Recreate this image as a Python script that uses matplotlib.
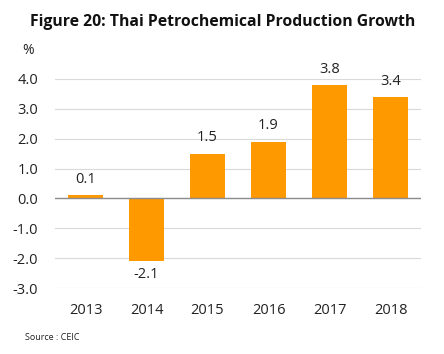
import matplotlib
matplotlib.use("Agg")
import matplotlib.pyplot as plt

years = ["2013", "2014", "2015", "2016", "2017", "2018"]
growth = [0.1, -2.1, 1.5, 1.9, 3.8, 3.4]
yticks = [-3.0, -2.0, -1.0, 0.0, 1.0, 2.0, 3.0, 4.0]

plt.rcParams['font.family'] = ['Open Sans', 'DejaVu Sans']

fig = plt.figure(figsize=(4.44, 3.54), dpi=100)
W, H = 444, 354
ax = fig.add_axes([55/W, (H-288)/H, (421-55)/W, (288-79)/H])

x = list(range(len(years)))
bars = ax.bar(x, growth, width=0.57, color="#FF9900", zorder=3)
ax.set_xlim(-0.5, len(years)-0.5)
ax.set_ylim(-3, 4)
ax.set_yticks(yticks)
ax.set_yticklabels([f"{v:.1f}" for v in yticks], fontsize=10.5, color="#222222")
ax.set_xticks(x)
ax.set_xticklabels(years, fontsize=10.5, color="#222222")
ax.tick_params(axis='y', length=0, pad=12)
ax.tick_params(axis='x', length=0, pad=11)
for s in ax.spines.values():
    s.set_visible(False)
ax.grid(axis='y', color="#D9D9D9", linewidth=0.8, zorder=0)
ax.axhline(0, color="#8C8C8C", linewidth=1.0, zorder=4)

for xi, v in zip(x, growth):
    if v >= 0:
        ax.annotate(f"{v:.1f}", (xi, v), xytext=(0, 6), textcoords="offset points",
                    ha="center", va="bottom", fontsize=10.5, color="#222222", annotation_clip=False)
    else:
        ax.annotate(f"{v:.1f}", (xi, v), xytext=(0, -4), textcoords="offset points",
                    ha="center", va="top", fontsize=10.5, color="#222222", annotation_clip=False)

fig.text(223/W, 1 - 22/H, "Figure 20: Thai Petrochemical Production Growth",
         ha="center", va="center", fontsize=11.3, fontweight="bold", color="#111111")
fig.text(22/W, 1 - 51/H, "%", ha="left", va="center", fontsize=10, color="#222222")
fig.text(25/W, 1 - 337/H, "Source : CEIC", ha="left", va="center", fontsize=6.5, color="#222222")

fig.savefig("out.png", dpi=100)
